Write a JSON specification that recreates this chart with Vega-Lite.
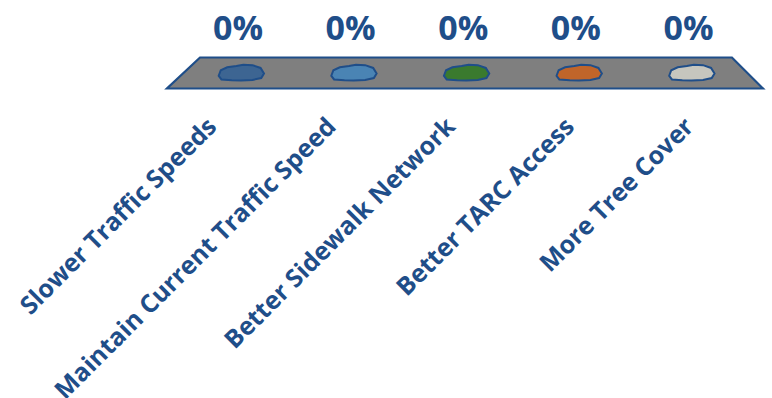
{
  "$schema": "https://vega.github.io/schema/vega-lite/v6.json",
  "width": 772,
  "height": 398,
  "autosize": "none",
  "padding": 0,
  "background": "white",
  "config": {"view": {"stroke": null}},
  "datasets": {
    "cats": [
      {"category": "Slower Traffic Speeds", "value": 0},
      {"category": "Maintain Current Traffic Speed", "value": 0},
      {"category": "Better Sidewalk Network", "value": 0},
      {"category": "Better TARC Access", "value": 0},
      {"category": "More Tree Cover", "value": 0}
    ],
    "floor": [
      {"edge": "back", "depth": 1, "left": -0.364, "right": 4.364},
      {"edge": "front", "depth": -1, "left": -0.658, "right": 4.64}
    ]
  },
  "layer": [
    {
      "data": {"name": "floor"},
      "mark": {"type": "area", "orient": "horizontal", "fill": "#7f7f7f", "stroke": "#1f4e89", "strokeWidth": 2.2, "clip": false},
      "encoding": {
        "y": {"field": "depth", "type": "quantitative", "scale": {"domain": [-20.97, 4.71], "nice": false, "zero": false}, "axis": null},
        "x": {"field": "left", "type": "quantitative", "scale": {"domain": [-2.142, 4.72], "nice": false, "zero": false}, "axis": null},
        "x2": {"field": "right"}
      }
    },
    {
      "data": {"name": "cats"},
      "mark": {"type": "point", "filled": true, "shape": "M-0.97,0.12 L-0.88,-0.12 L-0.6,-0.25 L-0.2,-0.3 L0.1,-0.36 L0.5,-0.34 L0.85,-0.22 L1,0.02 L0.88,0.22 L0.5,0.3 L0,0.33 L-0.4,0.32 L-0.85,0.28 Z", "size": 2116, "stroke": "#1f4e89", "strokeWidth": 2, "opacity": 1},
      "encoding": {
        "x": {"field": "category", "type": "nominal", "sort": null, "scale": {"type": "point", "range": [241, 691.5], "padding": 0}, "axis": null},
        "y": {"field": "value", "type": "quantitative"},
        "fill": {"field": "category", "type": "nominal", "sort": null, "legend": null,
          "scale": {"domain": ["Slower Traffic Speeds", "Maintain Current Traffic Speed", "Better Sidewalk Network", "Better TARC Access", "More Tree Cover"],
            "range": ["#3d6592", "#4a84b4", "#3a7a2e", "#c0652a", "#c6c6be"]}}
      }
    },
    {
      "data": {"name": "cats"},
      "mark": {"type": "text", "font": "Open Sans", "fontWeight": "bold", "fontSize": 34, "color": "#1f4e89", "align": "center", "baseline": "alphabetic", "yOffset": -33, "xOffset": -3},
      "encoding": {
        "x": {"field": "category", "type": "nominal", "sort": null, "scale": {"type": "point", "range": [241, 691.5], "padding": 0}, "axis": null},
        "y": {"field": "value", "type": "quantitative"},
        "text": {"field": "value", "type": "quantitative", "format": ".0%"}
      }
    },
    {
      "data": {"name": "cats"},
      "mark": {"type": "text", "font": "Open Sans", "fontWeight": "bold", "fontSize": 25, "color": "#1f4e89", "align": "right", "baseline": "top", "angle": -45, "yOffset": 41},
      "encoding": {
        "x": {"field": "category", "type": "nominal", "sort": null, "scale": {"type": "point", "range": [204, 681], "padding": 0}, "axis": null},
        "y": {"field": "value", "type": "quantitative"},
        "text": {"field": "category", "type": "nominal"}
      }
    }
  ],
  "resolve": {"scale": {"x": "independent"}}
}
